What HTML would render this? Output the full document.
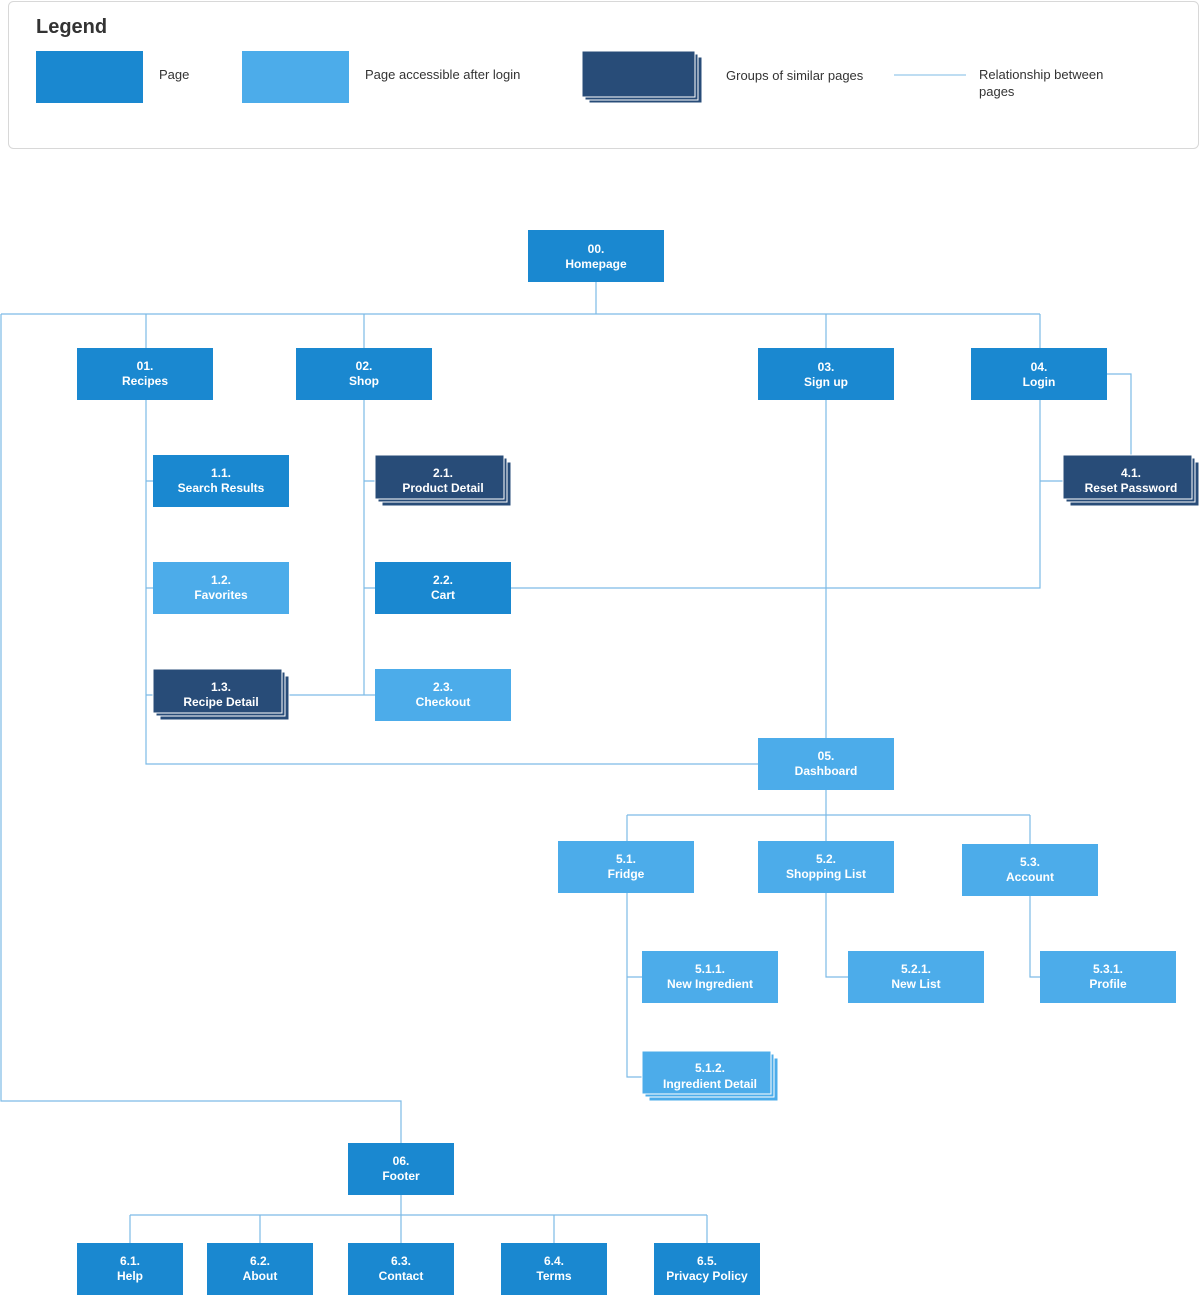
<!DOCTYPE html>
<html><head><meta charset="utf-8"><style>
body{margin:0;background:#fff;width:1200px;height:1295px;overflow:hidden;font-family:"Liberation Sans",sans-serif}
svg{display:block}
.t{font-family:"Liberation Sans",sans-serif;font-size:12px;font-weight:bold;fill:#fff;text-anchor:middle}
.l{font-family:"Liberation Sans",sans-serif;font-size:13px;fill:#333}
</style></head><body>
<svg width="1200" height="1295" viewBox="0 0 1200 1295">
<rect x="8.5" y="1.5" width="1190" height="147" rx="5" fill="#fff" stroke="#d8d8d8"/>
<text x="36" y="33" style="font-family:'Liberation Sans',sans-serif;font-size:20px;font-weight:bold;fill:#333">Legend</text>
<rect x="36" y="51" width="107" height="52" fill="#1a88d0"/>
<text class="l" x="159" y="79">Page</text>
<rect x="242" y="51" width="107" height="52" fill="#4cacea"/>
<text class="l" x="365" y="79">Page accessible after login</text>
<rect x="589" y="57" width="113" height="46" fill="#284c78" stroke="#fff"/>
<rect x="585" y="54" width="113" height="46" fill="#284c78" stroke="#fff"/>
<rect x="582" y="51" width="113" height="46" fill="#284c78" stroke="#fff"/>
<text class="l" x="726" y="80">Groups of similar  pages</text>
<line x1="894" y1="75" x2="966" y2="75" stroke="#7dbbe6"/>
<text class="l" x="979" y="79">Relationship between</text>
<text class="l" x="979" y="96">pages</text>

<g fill="none" stroke="#7dbbe6" stroke-width="1.2">
<path d="M596 282V314M1 314H1040M1 314V1101H401V1143"/>
<path d="M146 314V348M364 314V348M826 314V348M1040 314V348"/>
<path d="M146 400V764H758M146 481H153M146 588H153M146 695H153"/>
<path d="M364 400V695M364 481H375M364 588H375M289 695H375"/>
<path d="M511 588H1040V400M826 400V738"/>
<path d="M1107 374H1131V455M1040 481H1063"/>
<path d="M826 790V815M627 815H1030M627 815V841M826 815V841M1030 815V844"/>
<path d="M627 893V1077H642M627 977H642M826 893V977H848M1030 896V977H1040"/>
<path d="M401 1195V1215M130 1215H707M130 1215V1243M260 1215V1243M401 1215V1243M554 1215V1243M707 1215V1243"/>
</g>

<g>
<rect x="528" y="230" width="136" height="52" fill="#1a88d0"/><text class="t" x="596" y="253">00.</text><text class="t" x="596" y="268">Homepage</text>
<rect x="77" y="348" width="136" height="52" fill="#1a88d0"/><text class="t" x="145" y="370">01.</text><text class="t" x="145" y="385">Recipes</text>
<rect x="296" y="348" width="136" height="52" fill="#1a88d0"/><text class="t" x="364" y="370">02.</text><text class="t" x="364" y="385">Shop</text>
<rect x="758" y="348" width="136" height="52" fill="#1a88d0"/><text class="t" x="826" y="371">03.</text><text class="t" x="826" y="386">Sign up</text>
<rect x="971" y="348" width="136" height="52" fill="#1a88d0"/><text class="t" x="1039" y="371">04.</text><text class="t" x="1039" y="386">Login</text>

<rect x="153" y="455" width="136" height="52" fill="#1a88d0"/><text class="t" x="221" y="477">1.1.</text><text class="t" x="221" y="492">Search Results</text>
<rect x="153" y="562" width="136" height="52" fill="#4cacea"/><text class="t" x="221" y="584">1.2.</text><text class="t" x="221" y="599">Favorites</text>
<rect x="160" y="676" width="129" height="44" fill="#284c78" stroke="#fff"/><rect x="156" y="672" width="129" height="44" fill="#284c78" stroke="#fff"/><rect x="153" y="669" width="129" height="44" fill="#284c78" stroke="#fff"/><text class="t" x="221" y="691">1.3.</text><text class="t" x="221" y="706">Recipe Detail</text>

<rect x="382" y="462" width="129" height="44" fill="#284c78" stroke="#fff"/><rect x="378" y="458" width="129" height="44" fill="#284c78" stroke="#fff"/><rect x="375" y="455" width="129" height="44" fill="#284c78" stroke="#fff"/><text class="t" x="443" y="477">2.1.</text><text class="t" x="443" y="492">Product Detail</text>
<rect x="375" y="562" width="136" height="52" fill="#1a88d0"/><text class="t" x="443" y="584">2.2.</text><text class="t" x="443" y="599">Cart</text>
<rect x="375" y="669" width="136" height="52" fill="#4cacea"/><text class="t" x="443" y="691">2.3.</text><text class="t" x="443" y="706">Checkout</text>

<rect x="1070" y="462" width="129" height="44" fill="#284c78" stroke="#fff"/><rect x="1066" y="458" width="129" height="44" fill="#284c78" stroke="#fff"/><rect x="1063" y="455" width="129" height="44" fill="#284c78" stroke="#fff"/><text class="t" x="1131" y="477">4.1.</text><text class="t" x="1131" y="492">Reset Password</text>

<rect x="758" y="738" width="136" height="52" fill="#4cacea"/><text class="t" x="826" y="760">05.</text><text class="t" x="826" y="775">Dashboard</text>
<rect x="558" y="841" width="136" height="52" fill="#4cacea"/><text class="t" x="626" y="863">5.1.</text><text class="t" x="626" y="878">Fridge</text>
<rect x="758" y="841" width="136" height="52" fill="#4cacea"/><text class="t" x="826" y="863">5.2.</text><text class="t" x="826" y="878">Shopping List</text>
<rect x="962" y="844" width="136" height="52" fill="#4cacea"/><text class="t" x="1030" y="866">5.3.</text><text class="t" x="1030" y="881">Account</text>
<rect x="642" y="951" width="136" height="52" fill="#4cacea"/><text class="t" x="710" y="973">5.1.1.</text><text class="t" x="710" y="988">New Ingredient</text>
<rect x="848" y="951" width="136" height="52" fill="#4cacea"/><text class="t" x="916" y="973">5.2.1.</text><text class="t" x="916" y="988">New List</text>
<rect x="1040" y="951" width="136" height="52" fill="#4cacea"/><text class="t" x="1108" y="973">5.3.1.</text><text class="t" x="1108" y="988">Profile</text>
<rect x="649" y="1058" width="129" height="43" fill="#4cacea" stroke="#fff"/><rect x="645" y="1054" width="129" height="43" fill="#4cacea" stroke="#fff"/><rect x="642" y="1051" width="129" height="43" fill="#4cacea" stroke="#fff"/><text class="t" x="710" y="1072">5.1.2.</text><text class="t" x="710" y="1088">Ingredient Detail</text>

<rect x="348" y="1143" width="106" height="52" fill="#1a88d0"/><text class="t" x="401" y="1165">06.</text><text class="t" x="401" y="1180">Footer</text>
<rect x="77" y="1243" width="106" height="52" fill="#1a88d0"/><text class="t" x="130" y="1265">6.1.</text><text class="t" x="130" y="1280">Help</text>
<rect x="207" y="1243" width="106" height="52" fill="#1a88d0"/><text class="t" x="260" y="1265">6.2.</text><text class="t" x="260" y="1280">About</text>
<rect x="348" y="1243" width="106" height="52" fill="#1a88d0"/><text class="t" x="401" y="1265">6.3.</text><text class="t" x="401" y="1280">Contact</text>
<rect x="501" y="1243" width="106" height="52" fill="#1a88d0"/><text class="t" x="554" y="1265">6.4.</text><text class="t" x="554" y="1280">Terms</text>
<rect x="654" y="1243" width="106" height="52" fill="#1a88d0"/><text class="t" x="707" y="1265">6.5.</text><text class="t" x="707" y="1280">Privacy Policy</text>
</g>
</svg>
</body></html>
